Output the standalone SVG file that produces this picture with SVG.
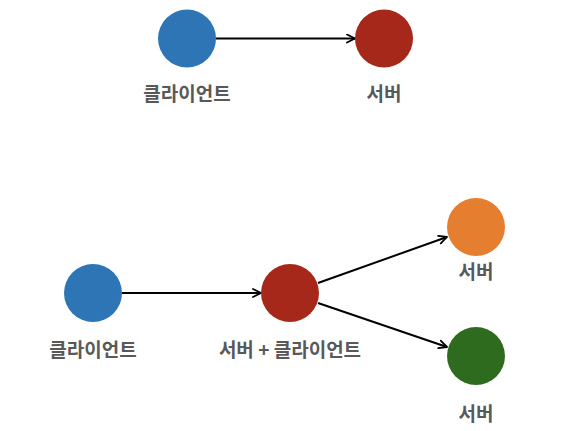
<svg xmlns="http://www.w3.org/2000/svg" width="577" height="431" viewBox="0 0 577 431">
<defs>
<marker id="arr" viewBox="0 0 10 10" refX="9" refY="5" markerWidth="10" markerHeight="10" markerUnits="userSpaceOnUse" orient="auto">
<path d="M1,1 L9,5 L1,9" fill="none" stroke="#000" stroke-width="1.8" stroke-linecap="round" stroke-linejoin="round"/>
</marker>
<style>
.lbl{font-family:"Noto Sans CJK KR","Noto Sans",sans-serif;font-weight:bold;font-size:19px;fill:#595959;text-anchor:middle}
.edge{stroke:#000;stroke-width:2;fill:none;marker-end:url(#arr)}
</style>
</defs>
<rect width="577" height="431" fill="#fff"/>
<g id="edges">
<line class="edge" x1="216" y1="38.5" x2="355" y2="38.5"/>
<line class="edge" x1="122" y1="293" x2="261" y2="293"/>
<line class="edge" x1="318" y1="283" x2="447" y2="237"/>
<line class="edge" x1="318" y1="303" x2="447" y2="347"/>
</g>
<g id="client1"><circle cx="187" cy="38.5" r="29" fill="#2e75b6"/><text class="lbl" x="187" y="101">클라이언트</text></g>
<g id="server1"><circle cx="384" cy="38.5" r="29" fill="#a5281b"/><text class="lbl" x="384" y="101">서버</text></g>
<g id="client2"><circle cx="93" cy="293" r="29" fill="#2e75b6"/><text class="lbl" x="93" y="357">클라이언트</text></g>
<g id="serverclient"><circle cx="290" cy="293" r="29" fill="#a5281b"/><text class="lbl" x="290" y="357">서버 + 클라이언트</text></g>
<g id="server2"><circle cx="476" cy="227" r="29" fill="#e67e30"/><text class="lbl" x="476" y="279">서버</text></g>
<g id="server3"><circle cx="476" cy="356" r="29" fill="#2e6b1e"/><text class="lbl" x="476" y="421">서버</text></g>
</svg>
